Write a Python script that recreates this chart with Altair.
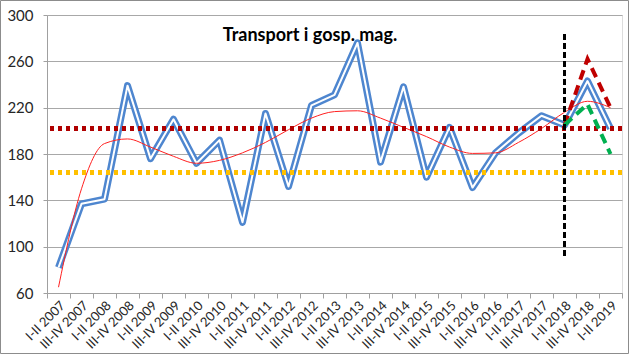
import altair as alt
import pandas as pd

categories = [
    "I-II 2007", "III-IV 2007", "I-II 2008", "III-IV 2008", "I-II 2009", "III-IV 2009",
    "I-II 2010", "III-IV 2010", "I-II 2011", "III-IV 2011", "I-II 2012", "III-IV 2012",
    "I-II 2013", "III-IV 2013", "I-II 2014", "III-IV 2014", "I-II 2015", "III-IV 2015",
    "I-II 2016", "III-IV 2016", "I-II 2017", "III-IV 2017", "I-II 2018", "III-IV 2018",
    "I-II 2019",
]
actual = [82, 137, 141, 239, 176, 210, 172, 192, 121, 215, 152, 222,
          231, 276, 173, 238, 160, 203, 151, 181, 198, 213, 205, 243, 202]
trend = [65, 150, 189, 193, 186, 178, 172, 174.5, 181, 190, 201, 211,
         216.6, 217.3, 211, 203, 195, 186, 180.5, 181, 190, 202, 216, 225.5, 220]
forecast_cats = ["I-II 2018", "III-IV 2018", "I-II 2019"]
optimistic = [205, 262, 220]
pessimistic = [205, 223, 180]
upper_level = 202
lower_level = 164
divider_cat = "I-II 2018"
divider_range = [92, 284]
y_ticks = [60, 100, 140, 180, 220, 260, 300]
title_text = "Transport i gosp. mag."

FONT = "Lato"
W, H = 575, 278

df = pd.DataFrame({"okres": categories, "wartosc": actual, "trend": trend})
fc = pd.DataFrame({
    "okres": forecast_cats * 2,
    "wartosc": optimistic + pessimistic,
    "wariant": ["opt"] * 3 + ["pes"] * 3,
})

xscale = alt.Scale(type="band", domain=categories, paddingInner=0, paddingOuter=0)
yscale = alt.Scale(domain=[60, 300], nice=False, zero=False)

x_enc = alt.X("okres:N", scale=xscale, title=None, sort=None,
              axis=alt.Axis(labelAngle=-45, labelAlign="right", labelBaseline="middle",
                            labelFontSize=13, labelColor="#262626", labelFont=FONT,
                            labelPadding=5, labelOffset=4,
                            tickBand="extent", tickSize=5, tickColor="#a0a0a0",
                            domainColor="#a0a0a0", grid=False))
y_enc = alt.Y("wartosc:Q", scale=yscale, title=None,
              axis=alt.Axis(values=y_ticks, grid=True, gridColor="#a8a8a8",
                            tickSize=4, tickColor="#a0a0a0", domainColor="#a0a0a0",
                            labelFontSize=15, labelColor="#262626", labelFont=FONT,
                            labelPadding=10))

base = alt.Chart(df)

blue_outer = base.mark_line(color="#4E86CF", strokeWidth=7, strokeJoin="round").encode(x=x_enc, y=y_enc)
blue_inner = base.mark_line(color="#ffffff", strokeWidth=2, strokeJoin="round").encode(x=x_enc, y=y_enc)
trend_line = base.mark_line(color="#FF2020", strokeWidth=1, interpolate="monotone").encode(
    x=x_enc, y=alt.Y("trend:Q", scale=yscale))

lower_rule = alt.Chart(df).mark_rule(color="#FFC000", strokeWidth=4, strokeDash=[4, 4]).encode(
    y=alt.datum(lower_level, scale=yscale))
upper_rule = alt.Chart(df).mark_rule(color="#B00000", strokeWidth=4, strokeDash=[4, 4]).encode(
    y=alt.datum(upper_level, scale=yscale))

fc_lines = alt.Chart(fc).mark_line(strokeWidth=4, strokeDash=[10, 6]).encode(
    x=x_enc,
    y=alt.Y("wartosc:Q", scale=yscale),
    color=alt.Color("wariant:N", scale=alt.Scale(domain=["opt", "pes"], range=["#C00000", "#00B050"]),
                    legend=None),
)

divider = alt.Chart(df).mark_rule(color="#000000", strokeWidth=2, strokeDash=[6, 3]).encode(
    x=alt.datum(divider_cat, scale=xscale),
    y=alt.datum(divider_range[0], scale=yscale),
    y2=alt.datum(divider_range[1]),
)

title_mark = alt.Chart(alt.Data(values=[{"t": title_text}])).mark_text(
    font=FONT, fontSize=18, fontWeight="bold", color="#000000", align="center", baseline="middle"
).encode(x=alt.value(263), y=alt.value(21), text="t:N")

border = alt.Chart(alt.Data(values=[{}])).mark_rect(fillOpacity=0, stroke="#8c8c8c", strokeWidth=1).encode(
    x=alt.value(-46.5), x2=alt.value(W + 6.5), y=alt.value(-14.5), y2=alt.value(H + 60.5))

chart = alt.layer(
    blue_outer, blue_inner, trend_line, lower_rule, upper_rule, fc_lines, divider, title_mark, border
).properties(
    width=W, height=H,
    autosize=alt.AutoSizeParams(type="none"),
    padding={"left": 47, "top": 15, "right": 7, "bottom": 61},
).configure_view(strokeWidth=0).configure(background="#ffffff")

chart.save("out.html", embed_options={"renderer": "svg", "actions": False})
